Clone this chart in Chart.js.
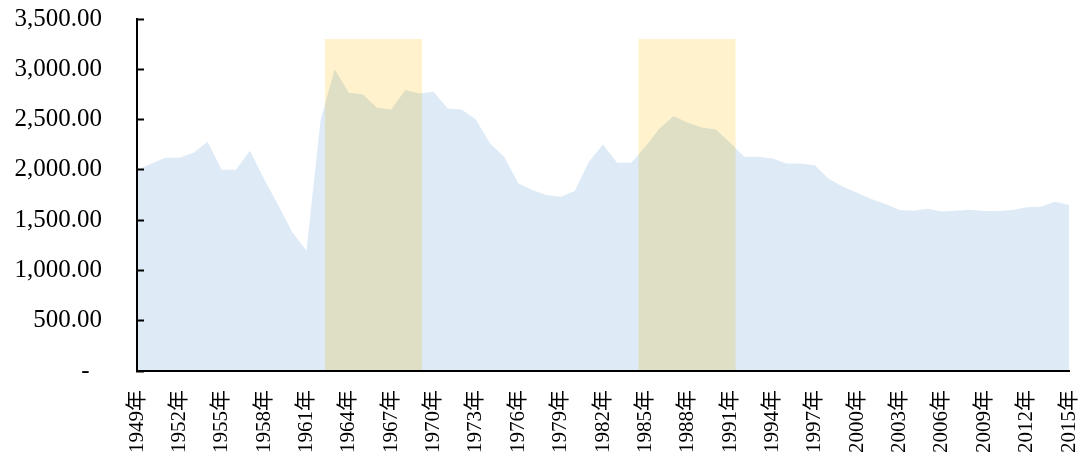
<!DOCTYPE html>
<html>
<head>
<meta charset="utf-8">
<script src="https://cdn.jsdelivr.net/npm/chart.js@4/dist/chart.umd.min.js"></script>
<style>
  html, body { margin: 0; padding: 0; background: #ffffff; }
  #wrap { width: 1086px; height: 459px; }
</style>
</head>
<body>
<div id="wrap"><canvas id="c" width="1086" height="459"></canvas></div>
<script>
// ---- data ----
const years = [1949,1950,1951,1952,1953,1954,1955,1956,1957,1958,1959,1960,1961,1962,1963,1964,1965,1966,1967,1968,1969,1970,1971,1972,1973,1974,1975,1976,1977,1978,1979,1980,1981,1982,1983,1984,1985,1986,1987,1988,1989,1990,1991,1992,1993,1994,1995,1996,1997,1998,1999,2000,2001,2002,2003,2004,2005,2006,2007,2008,2009,2010,2011,2012,2013,2014,2015];
const births = [2000,2060,2120,2120,2170,2280,2000,2000,2190,1910,1650,1380,1196,2495,3000,2766,2750,2617,2601,2793,2760,2777,2611,2601,2500,2263,2130,1866,1799,1750,1733,1789,2081,2253,2071,2071,2230,2412,2535,2468,2422,2402,2269,2130,2130,2114,2064,2064,2045,1910,1832,1773,1710,1660,1600,1594,1614,1587,1594,1604,1590,1590,1600,1627,1633,1683,1650];
const bandStart = [1962.3, 1984.5];
const bandEnd   = [1969.2, 1991.4];
const bandTop   = [3300, 3300];
const yTicksMin = 0, yTicksMax = 3500, yStep = 500;
const xTickStep = 3;

// ---- build datasets ----
const areaPoints = years.map((y, i) => ({ x: y, y: births[i] }));
const bandSets = bandStart.map((s, i) => ({
  type: 'line',
  data: [{ x: s, y: bandTop[i] }, { x: bandEnd[i], y: bandTop[i] }],
  backgroundColor: '#FFF2CC',
  borderColor: 'rgba(0,0,0,0)',
  borderWidth: 0,
  pointRadius: 0,
  fill: 'origin',
  tension: 0
}));

const multiplyPlugin = {
  id: 'multiplyBlend',
  beforeDatasetsDraw(chart) { chart.ctx.save(); chart.ctx.globalCompositeOperation = 'multiply'; },
  afterDatasetsDraw(chart) { chart.ctx.restore(); }
};

const fontFam = "'Liberation Serif', 'Noto Sans CJK SC', serif";

new Chart(document.getElementById('c'), {
  type: 'line',
  data: {
    datasets: [
      ...bandSets,
      {
        data: areaPoints,
        backgroundColor: '#DEEBF7',
        borderColor: 'rgba(0,0,0,0)',
        borderWidth: 0,
        pointRadius: 0,
        fill: 'origin',
        tension: 0
      }
    ]
  },
  options: {
    responsive: false,
    animation: false,
    layout: { padding: { top: 19, right: 17, left: 0, bottom: 0 } },
    plugins: { legend: { display: false }, tooltip: { enabled: false } },
    scales: {
      x: {
        type: 'linear',
        min: years[0],
        max: years[years.length - 1],
        grid: { display: false, drawTicks: false },
        border: { display: true, color: '#000000', width: 2 },
        ticks: {
          stepSize: xTickStep,
          autoSkip: false,
          maxRotation: 90,
          minRotation: 90,
          padding: 19,
          color: '#000000',
          font: { family: fontFam, size: 21 },
          callback: v => v + '年'
        },
        afterFit: s => { s.height = 88; s.paddingLeft = 0; s.paddingRight = 0; }
      },
      y: {
        min: yTicksMin,
        max: yTicksMax,
        grid: { display: true, drawOnChartArea: false, drawTicks: true, tickLength: -7, tickColor: '#000000', tickWidth: 2 },
        border: { display: true, color: '#000000', width: 2 },
        ticks: {
          stepSize: yStep,
          padding: 42,
          color: '#000000',
          font: { family: fontFam, size: 25 },
          callback: v => v === 0 ? '-  ' : v.toLocaleString('en-US', { minimumFractionDigits: 2, maximumFractionDigits: 2 })
        },
        afterFit: s => { s.width = 137; s.paddingTop = 0; s.paddingBottom = 0; }
      }
    }
  },
  plugins: [multiplyPlugin]
});
</script>
</body>
</html>
